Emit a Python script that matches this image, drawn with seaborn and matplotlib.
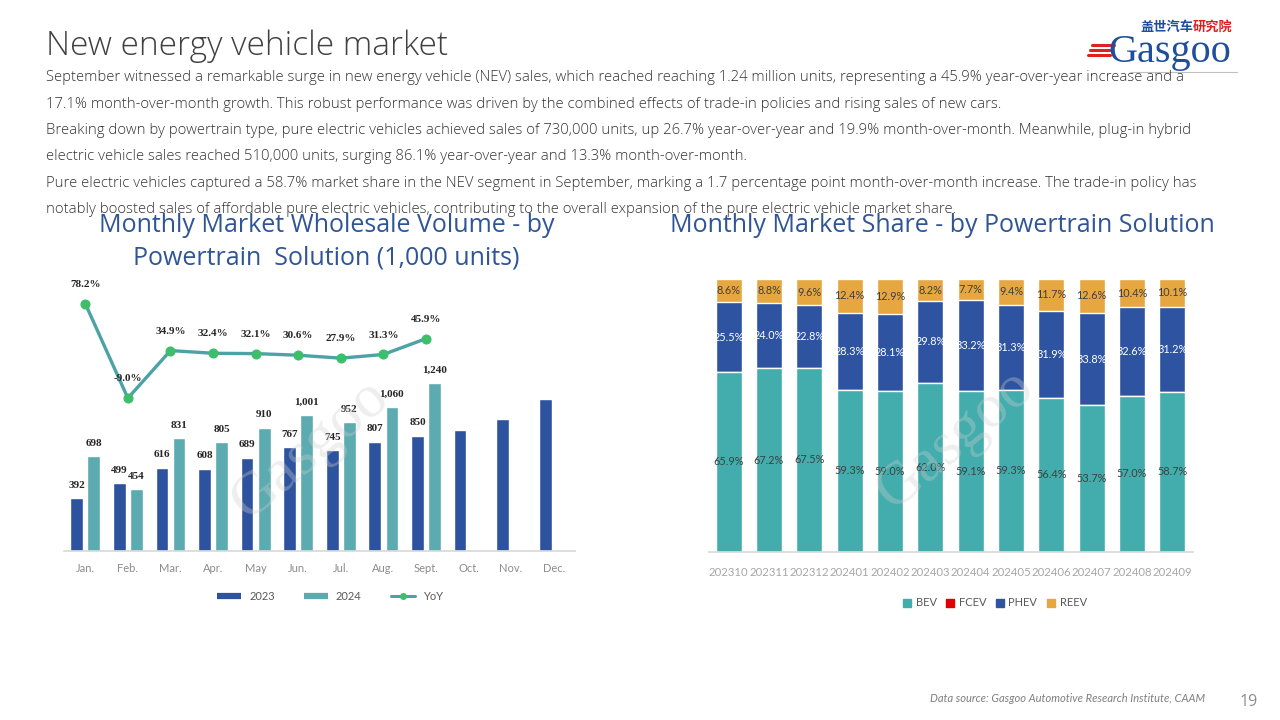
import numpy as np
import pandas as pd
import matplotlib
matplotlib.use("Agg")
import matplotlib.pyplot as plt
import seaborn as sns
from matplotlib.lines import Line2D

# ---------------- data ----------------
months = ["Jan.", "Feb.", "Mar.", "Apr.", "May", "Jun.", "Jul.", "Aug.", "Sept.", "Oct.", "Nov.", "Dec."]
vol_2023 = [392, 499, 616, 608, 689, 767, 745, 807, 850, 896, 977, 1124]
vol_2024 = [698, 454, 831, 805, 910, 1001, 952, 1060, 1240]
yoy = [78.2, -9.0, 34.9, 32.4, 32.1, 30.6, 27.9, 31.3, 45.9]

periods = ["202310", "202311", "202312", "202401", "202402", "202403",
           "202404", "202405", "202406", "202407", "202408", "202409"]
bev = [65.9, 67.2, 67.5, 59.3, 59.0, 62.0, 59.1, 59.3, 56.4, 53.7, 57.0, 58.7]
fcev = [0.0] * 12
phev = [25.5, 24.0, 22.8, 28.3, 28.1, 29.8, 33.2, 31.3, 31.9, 33.8, 32.6, 31.2]
reev = [8.6, 8.8, 9.6, 12.4, 12.9, 8.2, 7.7, 9.4, 11.7, 12.6, 10.4, 10.1]

body_lines = [
    "September witnessed a remarkable surge in new energy vehicle (NEV) sales, which reached reaching 1.24 million units, representing a 45.9% year-over-year increase and a",
    "17.1% month-over-month growth. This robust performance was driven by the combined effects of trade-in policies and rising sales of new cars.",
    "Breaking down by powertrain type, pure electric vehicles achieved sales of 730,000 units, up 26.7% year-over-year and 19.9% month-over-month. Meanwhile, plug-in hybrid",
    "electric vehicle sales reached 510,000 units, surging 86.1% year-over-year and 13.3% month-over-month.",
    "Pure electric vehicles captured a 58.7% market share in the NEV segment in September, marking a 1.7 percentage point month-over-month increase. The trade-in policy has",
    "notably boosted sales of affordable pure electric vehicles, contributing to the overall expansion of the pure electric vehicle market share.",
]

# ---------------- style ----------------
sns.set_theme(style="white")
plt.rcParams["font.family"] = ["Lato", "DejaVu Sans"]

C23 = "#2E539E"
C24 = "#5BABB0"
C_LINE = "#4BA3A6"
C_MARK = "#3DBE6B"
C_BEV = "#43ACAC"
C_FCEV = "#E00000"
C_PHEV = "#2E53A0"
C_REEV = "#E6A640"
C_TITLE = "#2F5597"
W, H = 1280, 720
OPEN = ["Open Sans", "DejaVu Sans"]


def fx(x):
    return x / W


def fy(y):
    return 1 - y / H


fig = plt.figure(figsize=(12.8, 7.2), dpi=100)
fig.patch.set_facecolor("white")

# ---------------- header ----------------
fig.text(fx(46), fy(55), "New energy vehicle market", fontsize=24, color="#404040",
         fontweight="light", family=OPEN, va="baseline", ha="left")
baselines = [81.0, 107.5, 134.0, 160.5, 187.0, 213.5]
for line, b in zip(body_lines, baselines):
    fig.text(fx(46), fy(b), line, fontsize=10.7, color="#333333", fontweight="light",
             family=OPEN, va="baseline", ha="left")

# logo
fig.text(fx(1140), fy(31), "盖世汽车", fontsize=9.5, color="#1F4F9C", fontweight="bold",
         family=["Noto Sans CJK SC", "DejaVu Sans"], va="baseline", ha="left")
fig.text(fx(1193), fy(31), "研究院", fontsize=9.5, color="#E02020", fontweight="bold",
         family=["Noto Sans CJK SC", "DejaVu Sans"], va="baseline", ha="left")
fig.text(fx(1108), fy(62), "Gasgoo", fontsize=29, color="#1F4F9C",
         family=["Liberation Serif", "DejaVu Serif"], va="baseline", ha="left")
for yy, x0 in [(45, 1092), (50, 1090), (55, 1088)]:
    fig.add_artist(Line2D([fx(x0), fx(x0 + 22)], [fy(yy), fy(yy)], color="#E02020", lw=2.2,
                          transform=fig.transFigure))
fig.add_artist(Line2D([fx(1130), fx(1237)], [fy(72), fy(72)], color="#BFBFBF", lw=0.8,
                      transform=fig.transFigure))

# footer
fig.text(fx(1205), fy(702), "Data source: Gasgoo Automotive Research Institute, CAAM",
         fontsize=8, style="italic", color="#7F7F7F", ha="right", va="baseline")
fig.text(fx(1249), fy(706), "19", fontsize=11.5, color="#8C8C8C", ha="center", va="baseline",
         family=OPEN)

# ---------------- left chart ----------------
fig.text(fx(326.5), fy(231.5), "Monthly Market Wholesale Volume - by", fontsize=18,
         color=C_TITLE, ha="center", va="baseline", fontweight="medium", family=OPEN)
fig.text(fx(326.5), fy(264.5), "Powertrain  Solution (1,000 units)", fontsize=18,
         color=C_TITLE, ha="center", va="baseline", fontweight="medium", family=OPEN)

axL = fig.add_axes([fx(64), fy(551), 511 / W, 271 / H])
df_vol = pd.concat([
    pd.DataFrame({"month": months[:len(vol_2023)], "year": "2023", "value": vol_2023}),
    pd.DataFrame({"month": months[:len(vol_2024)], "year": "2024", "value": vol_2024}),
], ignore_index=True)
sns.barplot(data=df_vol, x="month", y="value", hue="year", order=months,
            hue_order=["2023", "2024"], palette=[C23, C24], saturation=1,
            width=0.8, gap=0.25, legend=False, ax=axL)
axL.set_ylim(0, 2000)
axL.set_xlim(-0.5, len(months) - 0.5)
axL.set_xlabel("")
axL.set_ylabel("")
axL.set_yticks([])
for s in ["top", "right", "left"]:
    axL.spines[s].set_visible(False)
axL.spines["bottom"].set_color("#D9D9D9")
axL.tick_params(axis="x", length=0, pad=9, labelsize=8, labelcolor="#8C8C8C")

lab_kw = dict(fontsize=8, fontweight="bold", color="#262626",
              family=["Liberation Serif", "DejaVu Serif"], padding=6)
labels23 = [f"{v:,}" if i < len(vol_2024) else "" for i, v in enumerate(vol_2023)]
axL.bar_label(axL.containers[0], labels=labels23, **lab_kw)
axL.bar_label(axL.containers[1], labels=[f"{v:,}" for v in vol_2024], **lab_kw)

axL2 = axL.twinx()
sns.lineplot(x=np.arange(len(yoy)), y=np.array(yoy) / 100, ax=axL2, color=C_LINE,
             linewidth=2.4, marker="o", markersize=6.5, markerfacecolor=C_MARK,
             markeredgecolor=C_MARK)
axL2.set_ylim(-1.5, 1.0)
axL2.set_xlim(-0.5, len(months) - 0.5)
axL2.set_yticks([])
axL2.set_ylabel("")
for s in axL2.spines.values():
    s.set_visible(False)
for i, v in enumerate(yoy):
    axL2.annotate(f"{v:.1f}%", (i, v / 100), xytext=(0, 14), textcoords="offset points",
                  ha="center", va="center", fontsize=8, fontweight="bold", color="#262626",
                  family=["Liberation Serif", "DejaVu Serif"])

handlesL = [Line2D([], [], color=C23, lw=4.5, solid_capstyle="butt"),
            Line2D([], [], color=C24, lw=4.5, solid_capstyle="butt"),
            Line2D([], [], color=C_LINE, lw=2.2, marker="o", markersize=4,
                   markerfacecolor=C_MARK, markeredgecolor=C_MARK)]
legL = fig.legend(handlesL, ["2023", "2024", "YoY"], loc="center",
                  bbox_to_anchor=(fx(330), fy(596)), ncol=3, frameon=False, fontsize=8,
                  handlelength=2.2, columnspacing=2.6, handletextpad=0.7)
for t in legL.get_texts():
    t.set_color("#595959")

# ---------------- right chart ----------------
fig.text(fx(942.5), fy(231.5), "Monthly Market Share - by Powertrain Solution", fontsize=18,
         color=C_TITLE, ha="center", va="baseline", fontweight="medium", family=OPEN)

axR = fig.add_axes([fx(708.5), fy(551.7), 484 / W, 272.7 / H])
share = pd.DataFrame({"period": periods, "BEV": bev, "FCEV": fcev, "PHEV": phev, "REEV": reev})
series = ["BEV", "FCEV", "PHEV", "REEV"]
colors = {"BEV": C_BEV, "FCEV": C_FCEV, "PHEV": C_PHEV, "REEV": C_REEV}
cum = share[series].cumsum(axis=1)
for s in reversed(series):
    sns.barplot(x=share["period"], y=cum[s], order=periods, color=colors[s], saturation=1,
                width=0.645, edgecolor="white", linewidth=1.0, ax=axR)
axR.set_ylim(0, 100)
axR.set_xlim(-0.5, len(periods) - 0.5)
axR.set_xlabel("")
axR.set_ylabel("")
axR.set_yticks([])
for s in ["top", "right", "left"]:
    axR.spines[s].set_visible(False)
axR.spines["bottom"].set_color("#D9D9D9")
axR.tick_params(axis="x", length=0, pad=11, labelsize=8.2, labelcolor="#A6A6A6")

txt_col = {"BEV": "#404040", "PHEV": "white", "REEV": "#404040"}
for i in range(len(periods)):
    prev = 0.0
    for s in series:
        v = share[s].iloc[i]
        if v > 0:
            axR.text(i, prev + v / 2, f"{v:.1f}%", ha="center", va="center", fontsize=7.8,
                     color=txt_col[s])
        prev += v

handlesR = [Line2D([], [], ls="", marker="s", markersize=5.5, color=colors[s]) for s in series]
legR = fig.legend(handlesR, series, loc="center", bbox_to_anchor=(fx(995), fy(603)), ncol=4,
                  frameon=False, fontsize=8, handlelength=0.7, columnspacing=0.9,
                  handletextpad=0.4)
for t in legR.get_texts():
    t.set_color("#595959")

# watermarks
for (x, y) in [(310, 450), (955, 440)]:
    fig.text(fx(x), fy(y), "Gasgoo", fontsize=44, color="#D0D0D0", alpha=0.35, rotation=40,
             ha="center", va="center", family=["Liberation Serif", "DejaVu Serif"], zorder=10)

fig.savefig("out.png", dpi=100, facecolor="white")
